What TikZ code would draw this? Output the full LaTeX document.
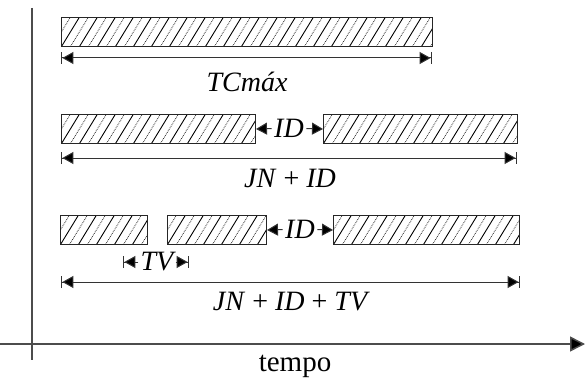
\documentclass[tikz,border=0pt]{standalone}
\usepackage{fontspec}
\setmainfont{Liberation Serif}
\usetikzlibrary{arrows.meta}
\begin{document}
\begin{tikzpicture}[x=1pt,y=-1pt,
  lbl/.style={font=\fontsize{28}{32}\selectfont\itshape, inner sep=0.5pt},
  gaplbl/.style={lbl, inner xsep=2.5pt},
  bar/.style={draw=black!85, line width=1pt, fill=white, anchor=north west, minimum height=29pt, inner sep=0pt,
    path picture={
      \foreach \k in {-4,...,44}{
        \ifodd\k
          \draw[black!80, line width=0.8pt, densely dotted] (path picture bounding box.south west) ++(\k*9,0) -- ++(22,-36);
        \else
          \draw[black, line width=0.9pt] (path picture bounding box.south west) ++(\k*9,0) -- ++(22,-36);
        \fi
      }
    }},
  dim/.style={draw=black!80, line width=1pt, {Bar[width=12pt,line width=1.4pt]Triangle[length=11pt,width=12pt,fill=black]}-{Triangle[length=11pt,width=12pt,fill=black]Bar[width=12pt,line width=1.4pt]}},
  tip/.style={draw=black!80, line width=1pt, -{Triangle[length=11pt,width=12pt,fill=black]}},
  tipbar/.style={draw=black!80, line width=1pt, -{Triangle[length=11pt,width=12pt,fill=black]Bar[width=12pt,line width=1.4pt]}},
  axis/.style={draw=black!70, line width=1.5pt}
]
\useasboundingbox (0,0) rectangle (585,382);

% axes
\coordinate (vtop) at (32,8);
\coordinate (vbot) at (32,360);
\coordinate (hl) at (0,344);
\coordinate (hr) at (585,344);
\draw[axis] (vtop) -- (vbot);
\draw[axis, -{Triangle[length=15pt,width=15pt,fill=black]}] (hl) -- (hr);
\node[font=\fontsize{29}{32}\selectfont] (tempo) at (295,366) {tempo};

% row 1
\node[bar, minimum width=371pt] (b1) at (61,17) {};
\coordinate (d1a) at (61,58);
\coordinate (d1b) at (432,58);
\draw[dim] (d1a) -- (d1b);
\node[lbl] (l1) at (247,82) {TCmáx};

% row 2
\node[bar, minimum width=194pt] (b2a) at (61,114) {};
\node[bar, minimum width=194pt] (b2b) at (323,114) {};
\node[gaplbl] (id2) at (289,128) {ID};
\draw[tip] (id2) -- (b2a.east);
\draw[tip] (id2) -- (b2b.west);
\coordinate (d2a) at (61,158);
\coordinate (d2b) at (517,158);
\draw[dim] (d2a) -- (d2b);
\node[lbl] (l2) at (290,178) {JN \textup{+} ID};

% row 3
\node[bar, minimum width=87pt] (b3a) at (60,215) {};
\node[bar, minimum width=99pt] (b3b) at (167,215) {};
\node[bar, minimum width=186pt] (b3c) at (333,215) {};
\node[gaplbl] (id3) at (300,229) {ID};
\draw[tip] (id3) -- (b3b.east);
\draw[tip] (id3) -- (b3c.west);
\node[lbl, inner xsep=2pt] (tv) at (157,262) {TV};
\coordinate (tva) at (123,262);
\coordinate (tvb) at (189,262);
\draw[tipbar] (tv) -- (tva);
\draw[tipbar] (tv) -- (tvb);
\coordinate (d3a) at (61,282);
\coordinate (d3b) at (520,282);
\draw[dim] (d3a) -- (d3b);
\node[lbl] (l3) at (290,302) {JN \textup{+} ID \textup{+} TV};
\end{tikzpicture}
\end{document}
